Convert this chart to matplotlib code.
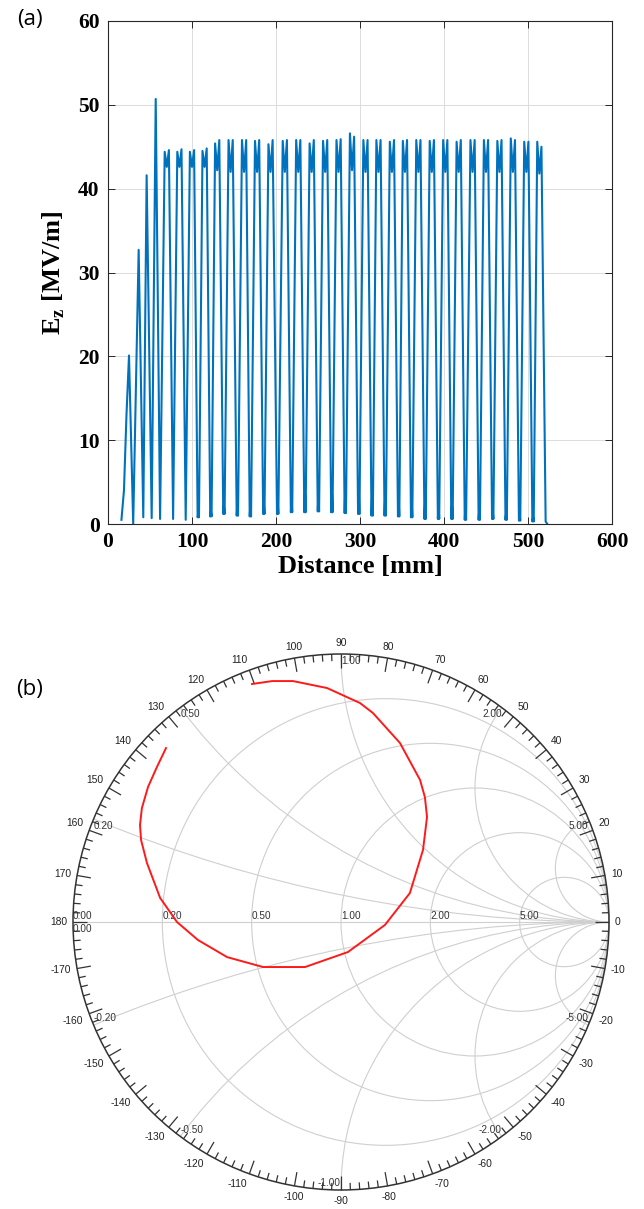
import numpy as np
import matplotlib.pyplot as plt
from matplotlib.patches import Circle
from matplotlib.collections import LineCollection

plt.rcParams['mathtext.fontset'] = 'custom'
plt.rcParams['mathtext.rm'] = 'Liberation Serif'
plt.rcParams['mathtext.bf'] = 'Liberation Serif:bold'

# ---------- (a) accelerating field along the axis ----------
# first cells: single spikes
early_mm = [16, 19, 22, 25, 27.5, 30, 36.5, 42, 46, 52, 56.8]
early_ez = [0.5, 4.0, 13.0, 20.1, 10.0, 0.0, 32.7, 0.8, 41.6, 0.7, 50.7]

# troughs preceding every double-humped cell (min value + small bump)
trough_mm = [62, 77.5, 92.5, 107.5, 122.5, 138, 154, 169.5, 185.5, 202,
             218.5, 234.5, 250.5, 266.5, 282.5, 298.5, 314.5, 330, 346, 361.5,
             377.5, 393.5, 409.5, 425.5, 442, 458, 474, 490, 506]
trough_lo = [0.6, 0.6, 0.5, 0.8, 0.9, 1.2, 1.0, 0.9, 1.2, 1.2,
             1.4, 1.4, 1.5, 1.4, 1.3, 1.2, 1.0, 1.0, 0.9, 0.8,
             0.6, 0.6, 0.6, 0.5, 0.5, 0.6, 0.5, 0.4, 0.3]
trough_bump = [0.6, 0.6, 0.5, 1.2, 1.5, 2.2, 2.4, 2.3, 2.5, 2.8,
               3.2, 3.6, 3.8, 4.2, 4.5, 4.4, 3.8, 3.5, 3.2, 3.0,
               2.6, 2.4, 2.2, 2.0, 1.8, 1.6, 1.4, 1.2, 0.8]

# double-humped cells: centre, left hump, middle dip, right hump
cell_mm = [70, 85, 100, 115, 130, 146, 162, 177.5, 193.5, 210.5,
           226.5, 242.5, 258.5, 274.5, 290.5, 306.5, 322, 338, 353.5, 369.5,
           385.5, 401.5, 417.5, 434, 450, 466, 482, 498, 513.5]
peak_left = [44.4, 44.4, 44.4, 44.5, 45.4, 45.8, 45.8, 45.7, 45.3, 45.7,
             45.8, 45.4, 45.7, 45.8, 46.6, 45.8, 45.8, 45.6, 45.7, 45.8,
             45.7, 45.8, 45.6, 45.8, 45.8, 45.7, 46.0, 45.6, 45.6]
peak_right = [44.6, 44.7, 44.6, 44.8, 45.8, 45.8, 45.8, 45.8, 45.8, 45.8,
              45.8, 45.8, 45.8, 45.9, 46.2, 45.8, 45.8, 45.8, 45.8, 45.8,
              45.8, 45.8, 45.8, 45.8, 45.8, 45.8, 45.8, 45.6, 45.0]
dip_ez = [42.6, 42.6, 42.6, 42.6, 42.2, 42.0, 42.0, 42.0, 42.0, 42.0,
          42.0, 42.0, 42.0, 42.0, 42.2, 42.0, 42.0, 42.0, 42.0, 42.0,
          42.0, 42.0, 42.0, 42.0, 42.0, 42.0, 42.0, 42.0, 41.8]
end_mm = [521, 523]
end_ez = [0.3, 0.0]

# ---------- (b) reflection coefficient trajectory ----------
refl_re = [-0.332, -0.257, -0.179, -0.052, 0.071, 0.119, 0.220, 0.295, 0.313,
           0.321, 0.306, 0.257, 0.164, 0.026, -0.134, -0.291, -0.425, -0.534,
           -0.612, -0.675, -0.724, -0.746, -0.750, -0.743, -0.720, -0.687, -0.653]
refl_im = [0.888, 0.899, 0.899, 0.873, 0.817, 0.780, 0.668, 0.530, 0.466,
           0.392, 0.269, 0.108, -0.011, -0.112, -0.168, -0.168, -0.131, -0.067,
           0.000, 0.090, 0.220, 0.306, 0.362, 0.425, 0.504, 0.578, 0.649]

smith_values = [0.2, 0.5, 1.0, 2.0, 5.0]

# build the Ez trace
hw, tw = 2.5, 0.8
dist = list(early_mm)
ez = list(early_ez)
for t, lo, bp, c, pl, dp, pr in zip(trough_mm, trough_lo, trough_bump,
                                     cell_mm, peak_left, dip_ez, peak_right):
    if bp > lo:
        dist += [t - tw, t, t + tw]
        ez += [lo, bp, lo]
    else:
        dist.append(t)
        ez.append(lo)
    dist += [c - hw, c, c + hw]
    ez += [pl, dp, pr]
dist += end_mm
ez += end_ez

W, H = 644, 1209
fig = plt.figure(figsize=(W / 100, H / 100), dpi=100)

serif = 'Liberation Serif'
ax = fig.add_axes([108 / W, 1 - 524 / H, 504 / W, 503 / H])
ax.plot(dist, ez, color='#0072BD', lw=1.5)
ax.set_xlim(0, 600)
ax.set_ylim(0, 60)
ax.set_xticks(range(0, 601, 100))
ax.set_yticks(range(0, 61, 10))
ax.grid(True, color='#dcdcdc', lw=0.7)
ax.set_axisbelow(True)
ax.tick_params(direction='in', length=5, width=0.7, top=True, right=True,
               color='#262626', labelsize=15.5, pad=6)
for lab in ax.get_xticklabels() + ax.get_yticklabels():
    lab.set_fontfamily(serif)
    lab.set_fontweight('bold')
for s in ax.spines.values():
    s.set_color('#262626')
    s.set_linewidth(0.8)
ax.set_xlabel('Distance [mm]', fontsize=19, fontweight='bold', family=serif, labelpad=2)
ax.set_ylabel(r'$\mathbf{E}_\mathbf{z}$ [MV/m]', fontsize=19, fontweight='bold',
              family=serif, labelpad=8)

fig.text(30 / W, 1 - 20 / H, '(a)', fontsize=16, family='Open Sans',
         ha='center', va='center')
fig.text(30 / W, 1 - 690 / H, '(b)', fontsize=16, family='Open Sans',
         ha='center', va='center')

# ---------- Smith chart ----------
R = 268.0
cx, cy = 341, 922
sx = fig.add_axes([(cx - 300) / W, 0, 600 / W, (H - 610) / H])
sx.set_xlim(-300 / R, 300 / R)
sx.set_ylim(-(H - cy) / R, (cy - 610) / R)
sx.axis('off')

grid_c = '#cfcfcf'
unit = Circle((0, 0), 1, fill=False, lw=1.1, ec='#333333', zorder=4)
sx.add_patch(unit)
clip = Circle((0, 0), 1, transform=sx.transData)
for r in smith_values:
    sx.add_patch(Circle((r / (1 + r), 0), 1 / (1 + r), fill=False,
                        ec=grid_c, lw=0.8, zorder=1))
    for x in (r, -r):
        arc = Circle((1, 1 / x), 1 / abs(x), fill=False, ec=grid_c, lw=0.8, zorder=1)
        sx.add_patch(arc)
        arc.set_clip_path(clip)
sx.plot([-1, 1], [0, 0], color=grid_c, lw=0.8, zorder=1)

lab_kw = dict(fontsize=7.2, family='Liberation Sans', color='#333333', zorder=5)
# resistance labels along the real axis
for r in [0.0] + smith_values:
    sx.text((r - 1) / (r + 1), 0.004, f'{r:.2f}', ha='left', va='bottom', **lab_kw)
# reactance labels where the arcs meet the rim
sx.text(-1, -0.006, '0.00', ha='left', va='top', **lab_kw)
for x in smith_values:
    for sgn in (1, -1):
        g = (1j * sgn * x - 1) / (1j * sgn * x + 1)
        if abs(g.real) < 1e-9:
            ha = 'left' if sgn > 0 else 'right'
        else:
            ha = 'left' if g.real < 0 else 'right'
        va = 'top' if sgn > 0 else 'bottom'
        sx.text(g.real, g.imag + (-0.006 if sgn > 0 else 0.006),
                f'{sgn * x:.2f}', ha=ha, va=va, **lab_kw)

# angle ticks on the rim
segs = []
for d in range(-180, 180, 2):
    a = np.deg2rad(d)
    ln = (14 if d % 10 == 0 else 7) / R
    segs.append([(np.cos(a), np.sin(a)), ((1 - ln) * np.cos(a), (1 - ln) * np.sin(a))])
sx.add_collection(LineCollection(segs, colors='#333333', lw=0.9, zorder=4))
for d in range(-170, 181, 10):
    a = np.deg2rad(d)
    c, s = np.cos(a), np.sin(a)
    ha = 'left' if c > 0.3 else ('right' if c < -0.3 else 'center')
    va = 'bottom' if s > 0.3 else ('top' if s < -0.3 else 'center')
    rr = 1 + 6 / R
    sx.text(rr * c, rr * s, str(d), ha=ha, va=va, fontsize=7.4,
            family='Liberation Sans', color='#222222')

sx.plot(refl_re, refl_im, color='#ff1a1a', lw=1.4, zorder=6)

fig.savefig('out.png', dpi=100)
